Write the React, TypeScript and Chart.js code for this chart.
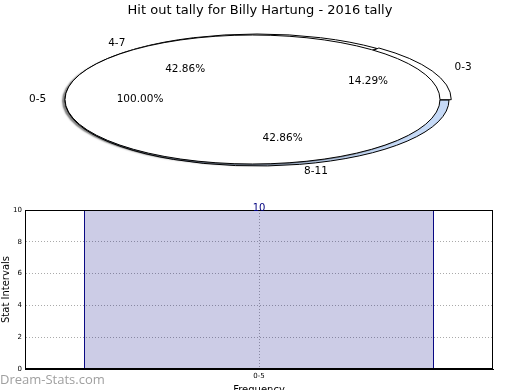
import React, { useEffect, useRef } from "react";
import { Chart, registerables } from "chart.js";
Chart.register(...registerables);

const chartTitle = "Hit out tally for Billy Hartung - 2016 tally";
const pieCategories = ["0-3", "4-7", "8-11"];
const pieValues = [1, 3, 3];
const pieColors = ["#ffffff", "#ffffff", "#c6daf7"];
const pieExplode = [4, 0, 0];
const totalCategories = ["0-5"];
const totalValues = [10];
const barCategories = ["0-5"];
const barValues = [10];
const yTicks = [0, 2, 4, 6, 8, 10];

const FONT = "'DejaVu Sans', sans-serif";

function drawPieLabels(ctx: any, chart: any, opts: any) {
  const meta = chart.getDatasetMeta(0);
  const ds = chart.data.datasets[0];
  const labels = chart.data.labels;
  const total = ds.data.reduce((a: number, b: number) => a + b, 0);
  ctx.save();
  ctx.fillStyle = "#000";
  ctx.font = `10.5px ${FONT}`;
  ctx.textBaseline = "middle";
  meta.data.forEach((arc: any, i: number) => {
    const r = arc.outerRadius;
    const mid = (arc.startAngle + arc.endAngle) / 2;
    const off = arc.options.offset || 0;
    const c = Math.cos(mid);
    const s = Math.sin(mid);
    const lx = opts.cx + c * (opts.labelDist * opts.rx + (off * opts.rx) / r);
    const ly = opts.cy + s * (opts.labelDist * opts.ry + (off * opts.ry) / r);
    ctx.textAlign = c > 0 ? "left" : "right";
    ctx.fillText(labels[i], lx, ly);
    const px = opts.cx + c * (opts.pctDist * opts.rx + (off * opts.rx) / r);
    const py = opts.cy + s * (opts.pctDist * opts.ry + (off * opts.ry) / r);
    ctx.textAlign = "center";
    ctx.fillText(((ds.data[i] / total) * 100).toFixed(2) + "%", px, py);
  });
  ctx.restore();
}

const ellipsePlugin = {
  id: "ellipse",
  beforeDatasetsDraw(chart: any, _a: any, opts: any) {
    const ctx = chart.ctx;
    const arc = chart.getDatasetMeta(0).data[0];
    if (!arc) return;
    const base = ctx.getTransform();
    chart.$ellBase = base;
    ctx.save();
    ctx.translate(opts.cx, opts.cy);
    ctx.scale(opts.rx / arc.outerRadius, opts.ry / arc.outerRadius);
    ctx.translate(-arc.x, -arc.y);
    if (opts.shadow) {
      ctx.shadowColor = opts.shadow;
      ctx.shadowOffsetX = opts.shadowX;
      ctx.shadowOffsetY = opts.shadowY;
      ctx.shadowBlur = opts.shadowBlur;
    }
    const orig = CanvasRenderingContext2D.prototype.stroke;
    ctx.stroke = function (...args: any[]) {
      this.save();
      this.setTransform(base);
      this.shadowColor = "rgba(0,0,0,0)";
      orig.apply(this, args);
      this.restore();
    };
  },
  afterDatasetsDraw(chart: any, _a: any, opts: any) {
    const ctx = chart.ctx;
    const meta = chart.getDatasetMeta(0);
    const arc0 = meta.data[0];
    if (!arc0) return;
    delete ctx.stroke;
    const base = chart.$ellBase;
    if (opts.outline) {
      ctx.shadowColor = "rgba(0,0,0,0)";
      ctx.beginPath();
      ctx.arc(arc0.x, arc0.y, arc0.outerRadius, 0, Math.PI * 2);
      ctx.save();
      ctx.setTransform(base);
      ctx.lineWidth = 1;
      ctx.strokeStyle = "#000";
      ctx.stroke();
      ctx.restore();
    }
    ctx.restore();
    if (!opts.deferLabels) drawPieLabels(ctx, chart, opts);
  },
};

const framePlugin = {
  id: "frame",
  afterDatasetsDraw(chart: any) {
    const { ctx, chartArea: a } = chart;
    ctx.save();
    ctx.strokeStyle = "#000";
    ctx.lineWidth = 1;
    ctx.strokeRect(a.left + 0.5, a.top + 0.5, a.right - a.left - 1, a.bottom - a.top - 1);
    ctx.restore();
  },
};

const valueLabelPlugin = {
  id: "valueLabel",
  afterDraw(chart: any) {
    const { ctx } = chart;
    const meta = chart.getDatasetMeta(0);
    const ds = chart.data.datasets[0];
    ctx.save();
    ctx.fillStyle = "#000080";
    ctx.font = `10px ${FONT}`;
    ctx.textAlign = "center";
    ctx.textBaseline = "alphabetic";
    meta.data.forEach((bar: any, i: number) => {
      ctx.fillText(String(ds.data[i]), bar.x, bar.y + 1);
    });
    ctx.restore();
  },
};

const backEllipse = { cx: 257, cy: 100, rx: 192, ry: 66, labelDist: 1.1, pctDist: 0.6, deferLabels: true };

export default function App() {
  const pieBackRef = useRef<HTMLCanvasElement>(null);
  const pieFrontRef = useRef<HTMLCanvasElement>(null);
  const barRef = useRef<HTMLCanvasElement>(null);

  useEffect(() => {
    document.body.style.margin = "0";
    const order = pieCategories.map((_, i) => pieCategories.length - 1 - i);
    const back = new Chart(pieBackRef.current!, {
      type: "pie",
      data: {
        labels: order.map((i) => pieCategories[i]),
        datasets: [
          {
            data: order.map((i) => pieValues[i]),
            backgroundColor: order.map((i) => pieColors[i]),
            offset: order.map((i) => pieExplode[i]),
            borderColor: "#000",
            borderWidth: 1,
          },
        ],
      },
      options: {
        responsive: false,
        animation: false,
        rotation: 90,
        plugins: {
          legend: { display: false },
          tooltip: { enabled: false },
          ellipse: backEllipse,
        } as any,
      },
      plugins: [ellipsePlugin],
    });
    const overlayLabels = {
      id: "overlayLabels",
      afterDraw(chart: any) {
        drawPieLabels(chart.ctx, back, backEllipse);
      },
    };
    const front = new Chart(pieFrontRef.current!, {
      type: "pie",
      data: {
        labels: totalCategories,
        datasets: [
          {
            data: totalValues,
            backgroundColor: "#ffffff",
            borderWidth: 0,
          },
        ],
      },
      options: {
        responsive: false,
        animation: false,
        rotation: 90,
        plugins: {
          legend: { display: false },
          tooltip: { enabled: false },
          title: {
            display: true,
            text: chartTitle,
            color: "#000",
            font: { family: FONT, size: 13, weight: "normal" },
            padding: { top: 3, bottom: 0 },
          },
          ellipse: {
            cx: 252.5,
            cy: 99.5,
            rx: 187.5,
            ry: 64.5,
            labelDist: 1.1,
            pctDist: 0.6,
            outline: true,
            shadow: "rgba(0,0,0,0.5)",
            shadowX: -3,
            shadowY: 1.5,
            shadowBlur: 1.5,
          },
        } as any,
      },
      plugins: [ellipsePlugin, overlayLabels],
    });
    const bar = new Chart(barRef.current!, {
      type: "bar",
      data: {
        labels: barCategories,
        datasets: [
          {
            data: barValues,
            backgroundColor: "rgba(0,0,128,0.2)",
            borderColor: "#000080",
            borderWidth: 1,
            barPercentage: 0.748,
            categoryPercentage: 1,
          },
        ],
      },
      options: {
        responsive: false,
        animation: false,
        layout: { padding: { top: 15, right: 27, left: 0, bottom: 0 } },
        plugins: { legend: { display: false }, tooltip: { enabled: false } },
        scales: {
          x: {
            grid: { offset: false, color: "#aaa", drawTicks: false, lineWidth: 1 },
            border: { dash: [1, 2], color: "#000" },
            ticks: { font: { family: FONT, size: 7 }, color: "#000", padding: 3 },
            title: {
              display: true,
              text: "Frequency",
              color: "#000",
              font: { family: FONT, size: 10 },
              padding: 0,
            },
            afterFit: (s: any) => {
              s.height = 27;
            },
          },
          y: {
            min: 0,
            max: 10,
            afterBuildTicks: (s: any) => {
              s.ticks = yTicks.map((v) => ({ value: v }));
            },
            grid: { color: "#aaa", drawTicks: false, lineWidth: 1 },
            border: { dash: [1, 2], color: "#000" },
            ticks: { font: { family: FONT, size: 7 }, color: "#000", padding: 3 },
            title: {
              display: true,
              text: "Stat Intervals",
              color: "#000",
              font: { family: FONT, size: 10 },
              padding: 0,
            },
            afterFit: (s: any) => {
              s.width = 25;
            },
          },
        },
      },
      plugins: [framePlugin, valueLabelPlugin],
    });
    return () => {
      back.destroy();
      front.destroy();
      bar.destroy();
    };
  }, []);

  return (
    <div style={{ position: "relative", width: 520, height: 390, overflow: "hidden", background: "#fff" }}>
      <canvas ref={pieBackRef} width={520} height={195} style={{ position: "absolute", left: 0, top: 0 }} />
      <canvas ref={pieFrontRef} width={520} height={195} style={{ position: "absolute", left: 0, top: 0 }} />
      <canvas ref={barRef} width={520} height={201} style={{ position: "absolute", left: 0, top: 195 }} />
      <div
        style={{
          position: "absolute",
          left: 0,
          top: 371,
          fontFamily: "'Open Sans', sans-serif",
          fontSize: 13,
          lineHeight: "17px",
          color: "#a0a0a0",
          whiteSpace: "nowrap",
        }}
      >
        Dream-Stats.com
      </div>
    </div>
  );
}
